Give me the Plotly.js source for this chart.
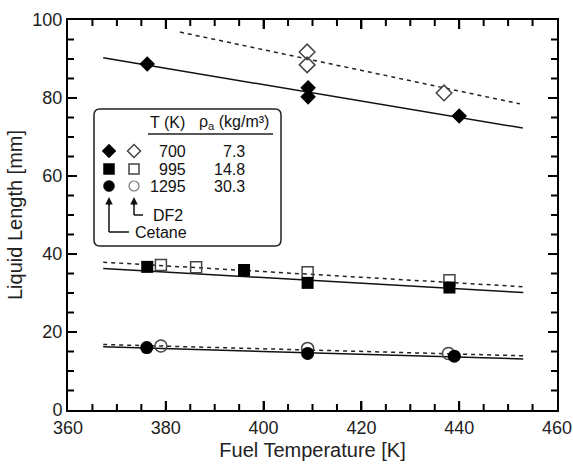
<!DOCTYPE html>
<html><head><meta charset="utf-8">
<script src="https://cdn.plot.ly/plotly-3.0.1.min.js"></script>
<style>body{margin:0;background:#fff}#c{width:573px;height:464px}</style>
</head><body><div id="c"></div>
<script>
// Cetane (solid) and DF2 (open) liquid length data
const cet700_T = [376.2, 409.1, 409.1, 440.0];
const cet700_L = [88.7, 82.6, 80.3, 75.4];
const df2700_T = [408.9, 408.9, 436.9];
const df2700_L = [91.8, 88.5, 81.3];
const cet995_T = [376.2, 396.0, 409.0, 438.0];
const cet995_L = [36.7, 35.9, 32.6, 31.4];
const df2995_T = [379.0, 386.2, 409.0, 438.0];
const df2995_L = [37.2, 36.6, 35.3, 33.3];
const cet1295_T = [376.1, 409.0, 439.0];
const cet1295_L = [16.0, 14.5, 13.8];
const df21295_T = [379.0, 409.0, 437.8];
const df21295_L = [16.4, 15.8, 14.5];
// fit lines
const fitCet700_T = [367.2, 453.0], fitCet700_L = [90.3, 72.3];
const fitDf2700_T = [382.9, 452.4], fitDf2700_L = [96.9, 78.5];
const fitCet995_T = [367.2, 453.1], fitCet995_L = [36.3, 30.1];
const fitDf2995_T = [367.2, 453.1], fitDf2995_L = [37.9, 31.6];
const fitCet1295_T = [367.2, 453.1], fitCet1295_L = [16.2, 13.1];
const fitDf21295_T = [367.2, 453.1], fitDf21295_L = [16.8, 13.9];
// legend table
const legT = ['700', '995', '1295'];
const legRho = ['7.3', '14.8', '30.3'];

const openCol = '#444';
function line(x, y, dash) {
  return {x, y, mode: 'lines', type: 'scatter', line: {color: dash ? '#222' : '#111', width: 1.5, dash: dash ? '4px,4px' : 'solid'}, hoverinfo: 'skip'};
}
function pts(x, y, sym, size, open) {
  return {x, y, mode: 'markers', type: 'scatter',
    marker: {symbol: sym + (open ? '-open' : ''), size, color: open ? openCol : '#000', line: {color: open ? openCol : '#000', width: open ? 1.5 : 0}}};
}
const traces = [
  line(fitCet700_T, fitCet700_L, false), line(fitDf2700_T, fitDf2700_L, true),
  line(fitCet995_T, fitCet995_L, false), line(fitDf2995_T, fitDf2995_L, true),
  line(fitCet1295_T, fitCet1295_L, false), line(fitDf21295_T, fitDf21295_L, true),
  pts(df2700_T, df2700_L, 'diamond', 12, true),
  pts(cet700_T, cet700_L, 'diamond', 12, false),
  pts(df2995_T, df2995_L, 'square', 11, true),
  pts(cet995_T, cet995_L, 'square', 12, false),
  pts(df21295_T, df21295_L, 'circle', 12, true),
  pts(cet1295_T, cet1295_L, 'circle', 13, false)
];

// pixel -> paper helpers for the inset legend box
const L = 68, R = 557, T = 20, B = 410;
const W = R - L, H = B - T;
const px = v => (v - L) / W, py = v => (B - v) / H;
const font = 'Liberation Sans, Arial, sans-serif';
const shapes = [];
const ann = [];

// inward ticks on all four sides (major every 20, minor every 5)
const xMin = 360, xMax = 460, yMin = 0, yMax = 100, majStep = 20, minStep = 5;
const tickStyle = {color: '#000', width: 2};
for (let v = xMin + minStep; v < xMax; v += minStep) {
  const len = ((v - xMin) % majStep === 0 ? 9 : 6) / H;
  shapes.push({type: 'line', xref: 'x', yref: 'paper', x0: v, x1: v, y0: 0, y1: len, line: tickStyle});
  shapes.push({type: 'line', xref: 'x', yref: 'paper', x0: v, x1: v, y0: 1, y1: 1 - len, line: tickStyle});
}
for (let v = yMin + minStep; v < yMax; v += minStep) {
  const len = ((v - yMin) % majStep === 0 ? 9 : 6) / W;
  shapes.push({type: 'line', xref: 'paper', yref: 'y', y0: v, y1: v, x0: 0, x1: len, line: tickStyle});
  shapes.push({type: 'line', xref: 'paper', yref: 'y', y0: v, y1: v, x0: 1, x1: 1 - len, line: tickStyle});
}

(function(){
  const x0 = 94, x1 = 281, y0 = 109, y1 = 246, r = 6;
  const sx = r / W, sy = r / H;
  const a = px(x0), b = px(x1), c = py(y0), d = py(y1);
  shapes.push({type: 'path', xref: 'paper', yref: 'paper', line: {color: '#222', width: 1.5}, fillcolor: 'rgba(255,255,255,1)',
    path: `M ${a+sx},${c} L ${b-sx},${c} Q ${b},${c} ${b},${c-sy} L ${b},${d+sy} Q ${b},${d} ${b-sx},${d} L ${a+sx},${d} Q ${a},${d} ${a},${d+sy} L ${a},${c-sy} Q ${a},${c} ${a+sx},${c} Z`});
})();
shapes.push({type: 'line', xref: 'paper', yref: 'paper', x0: px(148), x1: px(273), y0: py(134), y1: py(134), line: {color: '#222', width: 1.5}});
const lf = {family: font, size: 16, color: '#111'};
ann.push({xref: 'paper', yref: 'paper', x: px(167), y: py(123), text: 'T (K)', showarrow: false, font: lf, xanchor: 'center', yanchor: 'middle'});
ann.push({xref: 'paper', yref: 'paper', x: px(234), y: py(123), text: 'ρ<sub>a</sub> (kg/m³)', showarrow: false, font: lf, xanchor: 'center', yanchor: 'middle'});
const rowsY = [151, 169, 186];
legT.forEach((t, i) => {
  ann.push({xref: 'paper', yref: 'paper', x: px(188), y: py(rowsY[i]), text: t, showarrow: false, font: lf, xanchor: 'right', yanchor: 'middle'});
  ann.push({xref: 'paper', yref: 'paper', x: px(247), y: py(rowsY[i]), text: legRho[i], showarrow: false, font: lf, xanchor: 'right', yanchor: 'middle'});
});
function diamond(cx, cy, h, open) {
  const dx = h / W, dy = h / H, x = px(cx), y = py(cy);
  shapes.push({type: 'path', xref: 'paper', yref: 'paper', path: `M ${x},${y+dy} L ${x+dx},${y} L ${x},${y-dy} L ${x-dx},${y} Z`,
    fillcolor: open ? 'rgba(0,0,0,0)' : '#000', line: {color: open ? openCol : '#000', width: open ? 1.5 : 0.5}});
}
function sq(cx, cy, h, open) {
  shapes.push({type: 'rect', xref: 'paper', yref: 'paper', x0: px(cx - h), x1: px(cx + h), y0: py(cy + h), y1: py(cy - h),
    fillcolor: open ? 'rgba(0,0,0,0)' : '#000', line: {color: open ? openCol : '#000', width: open ? 1.5 : 0.5}});
}
function circ(cx, cy, h, open) {
  shapes.push({type: 'circle', xref: 'paper', yref: 'paper', x0: px(cx - h), x1: px(cx + h), y0: py(cy + h), y1: py(cy - h),
    fillcolor: open ? 'rgba(0,0,0,0)' : '#000', line: {color: open ? '#777' : '#000', width: open ? 1.2 : 0.5}});
}
diamond(109, 151, 7, false); diamond(134, 151, 6.5, true);
sq(109, 169, 5.5, false); sq(134, 169, 5, true);
circ(109, 186, 5.5, false); circ(134, 186, 5, true);
function seg(x0, y0, x1, y1) {
  shapes.push({type: 'line', xref: 'paper', yref: 'paper', x0: px(x0), x1: px(x1), y0: py(y0), y1: py(y1), line: {color: '#111', width: 1.5}});
}
seg(109, 203, 109, 232); seg(109, 232, 129, 232);
seg(134, 203, 134, 215); seg(134, 215, 143, 215);
ann.push({xref: 'paper', yref: 'paper', x: px(109), y: py(197), ax: 0, ay: 10, text: '', showarrow: true, arrowhead: 2, arrowsize: 1, arrowwidth: 1.5, arrowcolor: '#111'});
ann.push({xref: 'paper', yref: 'paper', x: px(134), y: py(197), ax: 0, ay: 10, text: '', showarrow: true, arrowhead: 2, arrowsize: 1, arrowwidth: 1.5, arrowcolor: '#111'});
ann.push({xref: 'paper', yref: 'paper', x: px(151), y: py(215), text: 'DF2', showarrow: false, font: lf, xanchor: 'left', yanchor: 'middle'});
ann.push({xref: 'paper', yref: 'paper', x: px(133), y: py(232), text: 'Cetane', showarrow: false, font: lf, xanchor: 'left', yanchor: 'middle'});

const axCommon = {showgrid: false, zeroline: false, showline: true, linecolor: '#000', linewidth: 2, mirror: 'allticks',
  ticks: 'inside', ticklen: 9, tickwidth: 2, tickcolor: '#000', tickfont: {family: font, size: 18, color: '#222'}};
const layout = {
  width: 573, height: 464, showlegend: false, paper_bgcolor: '#fff', plot_bgcolor: '#fff',
  margin: {l: L, r: 573 - R, t: T, b: 464 - B},
  xaxis: Object.assign({}, axCommon, {range: [xMin, xMax], dtick: majStep, tick0: xMin,
    title: {text: 'Fuel Temperature [K]', font: {family: font, size: 20, color: '#222'}, standoff: 6}}),
  yaxis: Object.assign({}, axCommon, {range: [yMin, yMax], dtick: majStep, tick0: yMin,
    title: {text: 'Liquid Length [mm]', font: {family: font, size: 20, color: '#222'}, standoff: 4}}),
  shapes, annotations: ann
};
Plotly.newPlot('c', traces, layout, {staticPlot: true, displayModeBar: false});
</script></body></html>
